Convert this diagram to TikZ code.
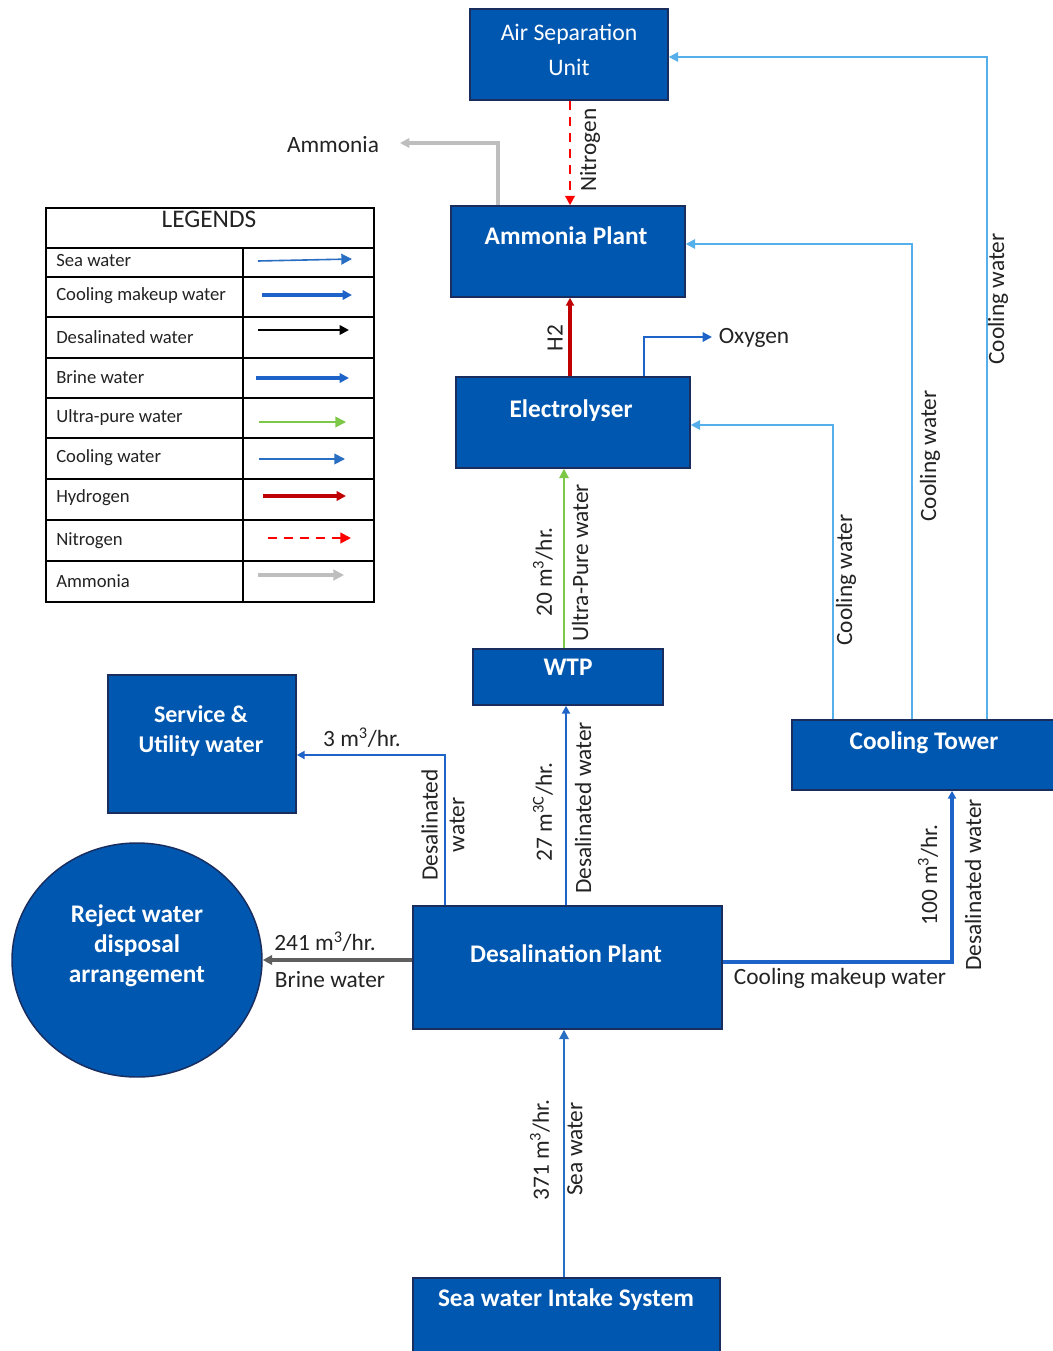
\documentclass[tikz,border=0pt]{standalone}
\usepackage{fontspec}
\setmainfont{Carlito}
\usetikzlibrary{fit,arrows.meta,shapes.geometric}

\definecolor{boxblue}{RGB}{0,87,176}
\definecolor{boxedge}{RGB}{25,45,95}
\definecolor{cwblue}{RGB}{85,175,235}
\definecolor{dwblue}{RGB}{30,100,200}
\definecolor{swblue}{RGB}{40,110,195}
\definecolor{h2red}{RGB}{192,0,0}
\definecolor{n2red}{RGB}{255,0,0}
\definecolor{nh3grey}{RGB}{190,190,190}
\definecolor{brinegrey}{RGB}{95,95,95}
\definecolor{upgreen}{RGB}{125,200,70}
\definecolor{txtgrey}{RGB}{35,35,35}

\tikzset{
  box/.style={draw=boxedge, line width=1.1pt, fill=boxblue, inner sep=0pt},
  disc/.style={ellipse, draw=boxedge, line width=1.1pt, fill=boxblue, inner sep=0pt},
  boxtxt/.style={text=white, font=\fontsize{17.8}{26}\selectfont, align=center, inner sep=0pt},
  boxtxtb/.style={text=white, font=\bfseries\fontsize{19}{22.5}\selectfont, align=center, inner sep=0pt},
  lbl/.style={text=txtgrey, font=\fontsize{17.5}{17.5}\selectfont, inner sep=0pt},
  lgtxt/.style={text=txtgrey, font=\fontsize{14}{14}\selectfont, inner sep=0pt, anchor=west},
  tip/.style={-{Triangle[length=#1,width=#1]}},
  cw/.style={draw=cwblue, line width=1.4pt, tip=7pt},
  dw/.style={draw=dwblue, line width=2.2pt, tip=6pt},
  sw/.style={draw=swblue, line width=1.5pt, tip=7pt},
  cmw/.style={draw=dwblue, line width=2.6pt, tip=6pt},
  brine/.style={draw=brinegrey, line width=2.4pt, tip=7pt},
  h2line/.style={draw=h2red, line width=3pt, tip=6pt},
  n2line/.style={draw=n2red, line width=1.6pt, dash pattern=on 7pt off 5pt, tip=7pt},
  nh3line/.style={draw=nh3grey, line width=2.4pt, tip=7pt},
  upw/.style={draw=upgreen, line width=1.4pt, tip=7pt},
  oxline/.style={draw=dwblue, line width=1.6pt, tip=7pt},
}

\begin{document}
\begin{tikzpicture}[x=0.75pt,y=-0.75pt]
\useasboundingbox[fill=white] (0,0) rectangle (1052,1351);

% ---------- process units ----------
\node[box, fit={(470,9)(668,100)}] (asu) {};
\node[box, fit={(451,206)(685,297)}] (nh3) {};
\node[box, fit={(456,377)(690,468)}] (ely) {};
\node[box, fit={(473,649)(663,705)}] (wtp) {};
\node[box, fit={(108,675)(296,813)}] (svc) {};
\node[box, fit={(413,906)(722,1029)}] (desal) {};
\node[box, fit={(792,720)(1060,790)}] (ct) {};
\node[box, fit={(413,1278)(720,1360)}] (swi) {};
\node[disc, minimum width=187.5pt, minimum height=175.5pt] (rej) at (137,960) {};

\node[boxtxt] (asu-t) at (569,50) {Air Separation\\Unit};
\node[boxtxtb] (nh3-t) at (566,236) {Ammonia Plant};
\node[boxtxtb] (ely-t) at (571,411) {Electrolyser};
\node[boxtxtb] (wtp-t) at (568,667) {WTP};
\node[boxtxtb, font=\bfseries\fontsize{18}{22.5}\selectfont] (svc-t) at (201,731) {Service \&\\Utility water};
\node[boxtxtb, font=\bfseries\fontsize{19}{22.5}\selectfont] (rej-t) at (137,946) {Reject water\\disposal\\arrangement};
\node[boxtxtb] (desal-t) at (566,954) {Desalination Plant};
\node[boxtxtb] (ct-t) at (924,743) {Cooling Tower};
\node[boxtxtb] (swi-t) at (566,1300) {Sea water Intake System};

% ---------- routing columns / rows ----------
\coordinate (c445) at (445,0);
\coordinate (c498) at (498,0);
\coordinate (c564) at (564,0);
\coordinate (c566) at (566,0);
\coordinate (c570) at (570,0);
\coordinate (c644) at (644,0);
\coordinate (c833) at (833,0);
\coordinate (c912) at (912,0);
\coordinate (c952) at (952,0);
\coordinate (c987) at (987,0);
\coordinate (r57) at (0,57);
\coordinate (r244) at (0,244);
\coordinate (r425) at (0,425);
\coordinate (r755) at (0,755);
\coordinate (r962) at (0,962);
\coordinate (nh3out) at (400,143);
\coordinate (oxout) at (712,337);

% ---------- flows ----------
\draw[n2line] (asu.south -| c570) -- (nh3.north -| c570);
\draw[nh3line] (nh3.north -| c498) |- (nh3out);
\draw[h2line] (ely.north -| c570) -- (nh3.south -| c570);
\draw[oxline] (ely.north -| c644) |- (oxout);
\draw[upw] (wtp.north -| c564) -- (ely.south -| c564);
\draw[cw] (ct.north -| c833) |- (ely.east |- r425);
\draw[cw] (ct.north -| c912) |- (nh3.east |- r244);
\draw[cw] (ct.north -| c987) |- (asu.east |- r57);
\draw[dw] (desal.north -| c566) -- (wtp.south -| c566);
\draw[dw] (desal.north -| c445) |- (svc.east |- r755);
\draw[brine] (desal.west |- rej.east) -- (rej.east);
\draw[cmw] (desal.east |- r962) -| (ct.south -| c952);
\draw[sw] (swi.north -| c564) -- (desal.south -| c564);

% ---------- flow labels ----------
\node[lbl] (l-nh3) at (333,145) {Ammonia};
\node[lbl, rotate=90] (l-n2) at (590,150) {Nitrogen};
\node[lbl, rotate=90] (l-h2) at (555,338) {H2};
\node[lbl] (l-ox) at (754,338) {Oxygen};
\node[lbl, rotate=90] (l-upq) at (543,572) {20 m\textsuperscript{3}/hr.};
\node[lbl, rotate=90] (l-upw) at (580,563) {Ultra-Pure water};
\node[lbl, rotate=90] (l-cw1) at (846,580) {Cooling water};
\node[lbl, rotate=90] (l-cw2) at (930,456) {Cooling water};
\node[lbl, rotate=90] (l-cw3) at (998,299) {Cooling water};
\node[lbl] (l-svq) at (362,738) {3 m\textsuperscript{3}/hr.};
\node[lbl, rotate=90, align=center, font=\fontsize{17.5}{20}\selectfont] (l-svw) at (443,825) {Desalinated\\water};
\node[lbl, rotate=90] (l-wtq) at (543,812) {27 m\textsuperscript{3C}/hr.};
\node[lbl, rotate=90] (l-wtw) at (583,808) {Desalinated water};
\node[lbl] (l-brq) at (325,942) {241 m\textsuperscript{3}/hr.};
\node[lbl] (l-brw) at (330,980) {Brine water};
\node[lbl] (l-cmw) at (840,978) {Cooling makeup water};
\node[lbl, rotate=90] (l-ctq) at (928,875) {100 m\textsuperscript{3}/hr.};
\node[lbl, rotate=90] (l-ctw) at (973,885) {Desalinated water};
\node[lbl, rotate=90] (l-swq) at (540,1150) {371 m\textsuperscript{3}/hr.};
\node[lbl, rotate=90] (l-sww) at (575,1149) {Sea water};

% ---------- legend table ----------
\node[draw=black, line width=1.3pt, inner sep=0pt, fit={(46,208)(374,602)}] (legend) {};
\foreach \y in {248,277,317,358,398,438,479,520,561}
  \draw[line width=1.1pt] (46,\y) -- (374,\y);
\draw[line width=1.1pt] (243,248) -- (243,602);
\node[text=txtgrey, font=\fontsize{19}{19}\selectfont, inner sep=0pt] (lg-head) at (209,219) {LEGENDS};
\foreach \y/\t [count=\i] in {261/Sea water, 296/Cooling makeup water, 337/Desalinated water,
    377/Brine water, 418/Ultra-pure  water, 458/Cooling water, 498/Hydrogen, 541/Nitrogen, 581/Ammonia}
  \node[lgtxt] (lg\i) at (56,\y) {\t};

\draw[sw, line width=1.2pt, tip=8pt] (258,261) coordinate (la1) -- (352,259) coordinate (lb1);
\draw[cmw, tip=7pt] (262,295) coordinate (la2) -- (352,295) coordinate (lb2);
\draw[draw=black, line width=2pt, tip=7pt] (258,330) coordinate (la3) -- (349,330) coordinate (lb3);
\draw[cmw, tip=7pt] (256,378) coordinate (la4) -- (349,378) coordinate (lb4);
\draw[upw, line width=1.2pt, tip=8pt] (259,422) coordinate (la5) -- (346,422) coordinate (lb5);
\draw[sw, line width=1.3pt, tip=8pt] (259,459) coordinate (la6) -- (345,459) coordinate (lb6);
\draw[h2line, line width=2.6pt, tip=7pt] (263,496) coordinate (la7) -- (346,496) coordinate (lb7);
\draw[n2line, tip=8pt] (268,538) coordinate (la8) -- (351,538) coordinate (lb8);
\draw[nh3line, tip=8pt] (258,575) coordinate (la9) -- (344,575) coordinate (lb9);
\end{tikzpicture}
\end{document}
